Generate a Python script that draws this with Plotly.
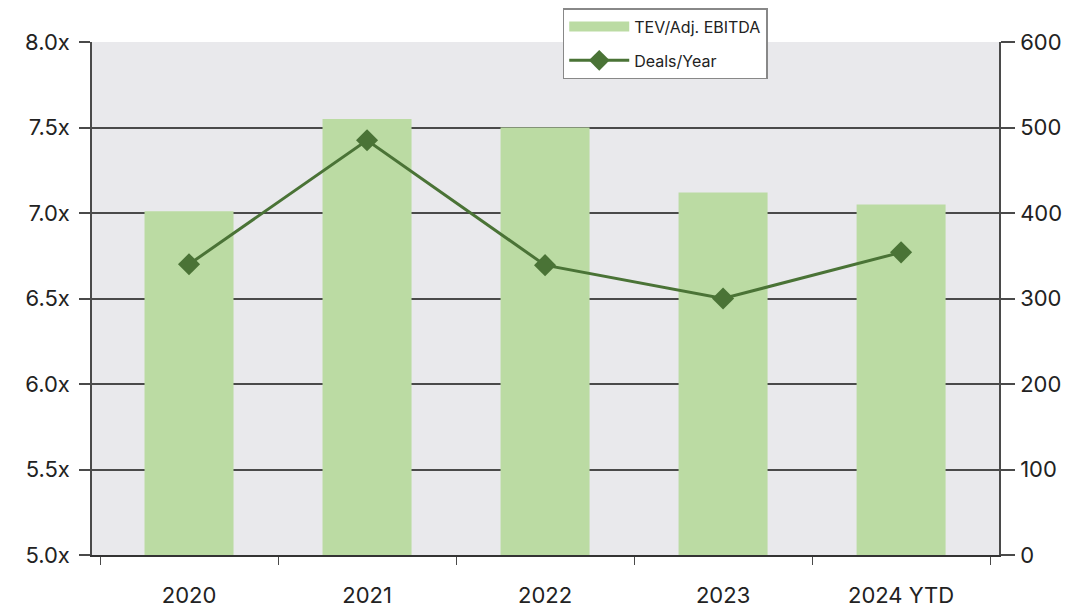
import plotly.graph_objects as go

categories = ["2020", "2021", "2022", "2023", "2024 YTD"]
tev_ebitda = [7.01, 7.55, 7.50, 7.12, 7.05]
deals_per_year = [340, 485, 339, 300, 354]
left_ticks = [5.0, 5.5, 6.0, 6.5, 7.0, 7.5, 8.0]
right_ticks = [0, 100, 200, 300, 400, 500, 600]

BAR = "#BBDBA3"
LINE = "#4A7336"
AX = "#4A4A4A"
FONT = "Inter, Roboto, Arial, sans-serif"

fig = go.Figure()
fig.add_trace(go.Bar(x=categories, y=tev_ebitda, marker=dict(color=BAR, line=dict(width=0)),
                     width=0.5, showlegend=False, yaxis="y"))
# legend stand-in for the bar series (wide swatch)
fig.add_trace(go.Scatter(x=[None], y=[None], mode="lines", name="TEV/Adj. EBITDA",
                         line=dict(color=BAR, width=12), legendgroup="a", yaxis="y"))
fig.add_trace(go.Scatter(x=categories, y=deals_per_year, mode="lines+markers", name="Deals/Year",
                         line=dict(color=LINE, width=3),
                         marker=dict(symbol="diamond", size=17, color=LINE),
                         legendgroup="b", yaxis="y2"))

fig.update_layout(
    width=1084, height=610,
    margin=dict(l=92, r=85, t=42, b=55, autoexpand=False),
    paper_bgcolor="white", plot_bgcolor="#E9E9EC",
    font=dict(family=FONT, size=22, color="#222222"),
    xaxis=dict(type="category", range=[-0.545, 4.55], showgrid=False, automargin=False,
               showline=True, linecolor="#333333", linewidth=1.5,
               ticks="outside", tickson="boundaries", ticklen=8, tickcolor=AX,
               ticklabelstandoff=20, tickfont=dict(size=22)),
    yaxis=dict(range=[5, 8], tickvals=left_ticks, ticktext=[f"{v:.1f}x" for v in left_ticks],
               showgrid=True, gridcolor=AX, gridwidth=1.5, automargin=False,
               showline=True, linecolor=AX, linewidth=1.5, zeroline=False,
               ticks="outside", ticklen=11, tickcolor=AX, tickwidth=1.5,
               ticklabelstandoff=5, tickfont=dict(size=22)),
    yaxis2=dict(range=[0, 600], tickvals=right_ticks, overlaying="y", side="right",
                showgrid=False, showline=True, linecolor=AX, linewidth=1.5, zeroline=False,
                automargin=False,
                ticks="outside", ticklen=14, tickcolor=AX, tickwidth=1.5,
                ticklabelstandoff=1, tickfont=dict(size=22)),
    legend=dict(x=0.519, y=1.066, xanchor="left", yanchor="top",
                bgcolor="white", bordercolor="#888888", borderwidth=1.5,
                font=dict(size=16, color="#222222"), itemwidth=60,
                traceorder="grouped", tracegroupgap=10),
    bargap=0.5,
)

fig.write_html("out.html", config={"displayModeBar": False},
               post_script="document.body.style.margin='0';document.body.style.overflow='hidden';")
